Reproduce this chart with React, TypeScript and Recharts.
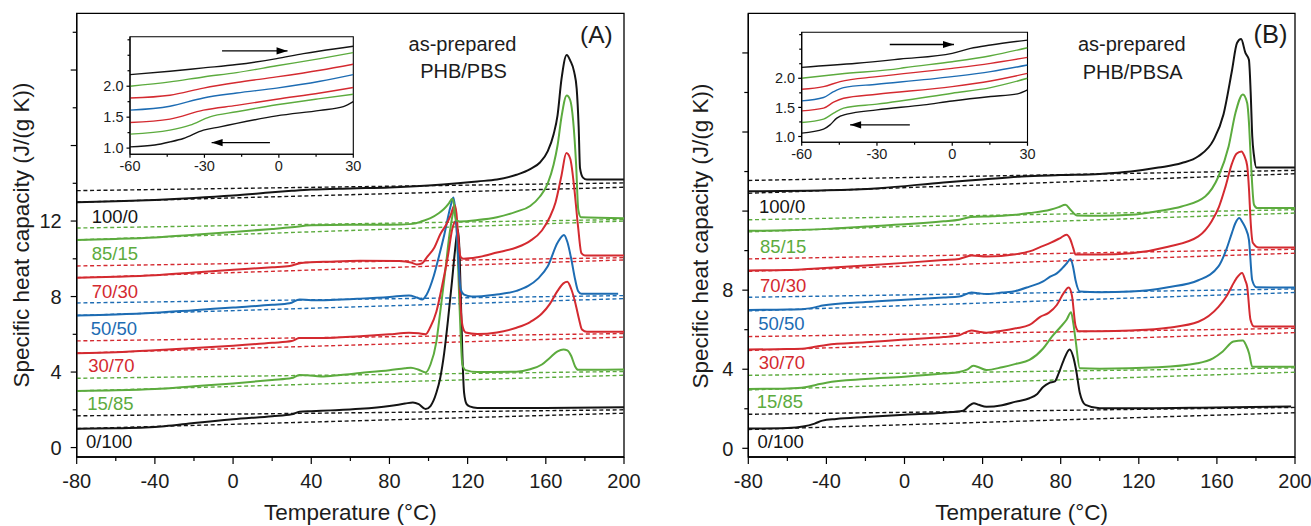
import React from 'react';
import { LineChart, Line, XAxis, YAxis, ReferenceArea, ReferenceLine, ReferenceDot } from 'recharts';

const FONT = "'Liberation Sans', Arial, Helvetica, sans-serif";
const INK = '#1c1c1c';
const BLACK = '#141414';
const GREEN = '#5cab3e';
const RED = '#d42a30';
const BLUE = '#1d6cb3';

const samples = ['0/100', '15/85', '30/70', '50/50', '70/30', '85/15', '100/0'];
const sampleColors = [BLACK, GREEN, RED, BLUE, RED, GREEN, BLACK];

const xTicks = [-80, -60, -40, -20, 0, 20, 40, 60, 80, 100, 120, 140, 160, 180, 200];
const xLabels = [-80, -40, 0, 40, 80, 120, 160, 200];
const yTicksA = [0, 2, 4, 6, 8, 10, 12, 14, 16, 18, 20, 22];
const yTicksB = [0, 2, 4, 6, 8, 10, 12, 14, 16, 18, 20];
const yMajor = [0, 4, 8, 12, 16, 20];
const yLabelsA = [0, 4, 8, 12];
const yLabelsB = [0, 4, 8];
const insetXTicks = [-60, -45, -30, -15, 0, 15, 30];
const insetXLabels = [-60, -30, 0, 30];
const insetYTicks = [1.0, 1.25, 1.5, 1.75, 2.0, 2.25, 2.5, 2.75];
const insetYLabels = [1.0, 1.5, 2.0];

// (A) PHB/PBS, as-prepared, [T °C, cp J/(g K)], curves shifted by 2 each
const a0_100 = [[-80, 1.0], [-60, 1.02], [-45, 1.06], [-35, 1.13], [-20, 1.3], [0, 1.5], [20, 1.66], [30, 1.76], [34, 1.9], [40, 1.93], [50, 1.97], [65, 2.05], [80, 2.2], [88, 2.33], [92, 2.39], [95, 2.3], [98.5, 2.04], [101, 2.2], [104, 2.9], [106, 3.7], [108, 5.0], [110, 6.8], [112, 8.8], [113.5, 10.4], [115, 11.55], [115.8, 10.5], [116.5, 8.0], [117.3, 5.0], [118.2, 2.9], [119.5, 2.3], [121, 2.18], [125, 2.1], [160, 2.1], [200, 2.13]];
const a15_85 = [[-80, 3.0], [-60, 3.03], [-40, 3.1], [-20, 3.25], [0, 3.4], [20, 3.58], [30, 3.68], [34, 3.85], [38, 3.83], [45, 3.77], [55, 3.85], [65, 3.95], [80, 4.1], [88, 4.2], [91, 4.23], [95, 4.12], [98.5, 3.98], [101, 4.4], [104, 5.6], [106, 7.2], [108.5, 9.3], [111, 11.5], [113.5, 12.65], [114.5, 11.5], [115.6, 8.2], [116.5, 5.8], [117.3, 4.4], [119, 4.1], [125, 4.0], [145, 4.02], [152, 4.15], [158, 4.4], [162, 4.75], [166, 5.1], [169, 5.2], [171, 5.15], [173, 4.85], [175, 4.3], [176.5, 4.12], [200, 4.13]];
const a30_70 = [[-80, 5.0], [-60, 5.05], [-40, 5.15], [-20, 5.27], [0, 5.4], [20, 5.55], [30, 5.64], [34, 5.8], [45, 5.8], [65, 5.9], [80, 6.0], [90, 6.08], [95, 6.05], [98.5, 6.0], [101, 6.4], [104, 7.2], [107, 8.6], [110, 10.2], [112.2, 11.6], [114, 12.0], [115, 11.0], [116.4, 7.5], [117.5, 6.4], [119, 6.1], [125, 6.02], [135, 6.1], [145, 6.35], [152, 6.65], [158, 7.1], [162, 7.6], [166, 8.3], [169, 8.7], [171, 8.78], [173, 8.4], [175, 7.7], [177, 6.8], [178.5, 6.25], [181, 6.13], [200, 6.13]];
const a50_50 = [[-80, 7.0], [-60, 7.05], [-40, 7.14], [-20, 7.28], [0, 7.42], [20, 7.56], [29, 7.64], [34, 7.85], [40, 7.8], [50, 7.82], [65, 7.89], [80, 7.98], [90, 8.06], [94, 7.95], [96.7, 7.85], [99, 8.1], [102.7, 9.1], [105.5, 10.2], [108, 11.25], [111.3, 12.8], [112.7, 13.25], [114, 12.2], [114.7, 10.9], [116.4, 8.4], [118.2, 8.1], [122, 8.0], [134, 8.1], [145, 8.3], [151, 8.56], [156, 8.95], [161, 9.6], [166, 10.85], [169.3, 11.26], [171, 10.9], [173, 10.0], [175, 8.9], [176.5, 8.3], [178.2, 8.15], [197, 8.15]];
const a70_30 = [[-80, 9.0], [-60, 9.05], [-40, 9.13], [-20, 9.28], [0, 9.42], [20, 9.55], [29, 9.62], [35, 9.78], [50, 9.85], [65, 9.89], [85, 9.88], [91, 9.8], [94, 9.7], [96.5, 9.75], [99.3, 10.1], [103, 10.6], [106, 11.3], [109, 11.8], [111.3, 12.3], [113.3, 12.85], [114.3, 12.4], [115.3, 11.0], [116.4, 10.1], [118, 10.0], [125, 10.08], [135, 10.33], [145, 10.6], [152, 10.95], [158, 11.5], [162, 12.2], [165, 13.0], [168, 14.4], [170.5, 15.6], [172.5, 15.3], [174.5, 13.8], [176.5, 11.7], [178.2, 10.3], [180, 10.18], [200, 10.18]];
const a85_15 = [[-80, 11.0], [-60, 11.05], [-40, 11.13], [-20, 11.28], [0, 11.42], [20, 11.58], [30, 11.67], [40, 11.78], [60, 11.8], [80, 11.8], [92, 11.85], [97, 12.0], [101, 12.15], [105, 12.4], [108, 12.65], [110.5, 12.95], [112.1, 13.18], [113, 12.9], [113.9, 12.05], [116, 11.98], [125, 12.05], [135, 12.2], [145, 12.5], [152, 12.8], [157, 13.3], [161, 14.0], [164, 15.0], [166, 16.0], [168, 17.5], [170.7, 18.65], [172.5, 18.4], [174, 17.3], [175.5, 15.0], [176.6, 12.6], [178, 12.2], [200, 12.15]];
const a100_0 = [[-80, 13.0], [-60, 13.05], [-40, 13.12], [-20, 13.22], [0, 13.35], [20, 13.52], [30, 13.6], [40, 13.67], [60, 13.73], [80, 13.78], [100, 13.88], [115, 14.0], [125, 14.1], [135, 14.2], [145, 14.45], [152, 14.75], [157, 15.1], [161, 15.7], [164, 16.6], [166, 17.6], [168, 19.5], [170.7, 20.8], [172.5, 20.5], [174.5, 19.9], [175.8, 19.0], [176.8, 17.0], [177.5, 14.8], [179, 14.3], [181, 14.2], [200, 14.2]];

// dashed baselines of (A): value at -80 and at 200 °C
const aHiStart = [1.68, 3.67, 5.65, 7.66, 9.62, 11.63, 13.61];
const aHiEnd = [2.0, 4.03, 6.04, 8.05, 10.06, 12.08, 14.02];
const aLoStart = [1.0, 3.0, 5.0, 7.0, 9.0, 11.0, 13.0];
const aLoEnd = [1.82, 3.83, 5.85, 7.89, 9.94, 12.0, 13.79];

// (B) PHB/PBSA, as-prepared
const b0_100 = [[-80, 1.0], [-60, 1.03], [-52, 1.1], [-46, 1.25], [-42, 1.4], [-35, 1.48], [-20, 1.58], [0, 1.7], [20, 1.8], [30, 1.9], [33, 2.15], [35.5, 2.28], [38, 2.2], [42, 2.1], [50, 2.18], [57, 2.36], [64, 2.53], [68, 2.75], [71, 3.1], [74, 3.3], [77, 3.38], [79, 3.8], [81.5, 4.45], [84.6, 5.0], [86.5, 4.6], [88, 3.9], [89.8, 2.8], [92.7, 2.2], [100, 2.03], [120, 2.03], [160, 2.07], [198, 2.11]];
const b15_85 = [[-80, 3.0], [-60, 3.03], [-51, 3.09], [-45, 3.22], [-40, 3.32], [-20, 3.5], [0, 3.62], [20, 3.78], [28, 3.86], [32, 3.98], [35.3, 4.17], [38, 4.1], [42, 3.96], [50, 4.1], [57, 4.27], [64, 4.47], [71, 5.05], [75.5, 5.65], [80, 6.15], [83, 6.5], [85.3, 6.88], [86.5, 6.3], [87.6, 5.5], [89.8, 4.05], [100, 4.03], [130, 4.1], [150, 4.3], [158, 4.55], [163, 4.9], [168.5, 5.4], [173.3, 5.45], [175, 5.2], [176.5, 4.8], [178.1, 4.13], [200, 4.13]];
const b30_70 = [[-80, 5.0], [-60, 5.02], [-51, 5.05], [-45, 5.15], [-40, 5.23], [-20, 5.36], [0, 5.5], [20, 5.63], [28, 5.72], [34.4, 5.96], [38, 5.9], [42, 5.85], [50, 5.95], [57, 6.07], [64, 6.24], [69.5, 6.65], [73.8, 6.85], [78, 7.25], [81.5, 7.85], [84.1, 8.13], [85.8, 7.7], [87.6, 6.2], [89.3, 5.92], [100, 5.92], [116, 5.96], [135, 6.1], [150.5, 6.4], [160.8, 7.15], [165, 7.7], [167.7, 8.2], [170, 8.6], [172.9, 8.87], [174.5, 8.5], [175.5, 8.18], [177.2, 6.5], [179, 6.16], [200, 6.16]];
const b50_50 = [[-80, 7.0], [-60, 7.02], [-51, 7.05], [-45, 7.15], [-42, 7.22], [-20, 7.4], [0, 7.52], [20, 7.63], [28, 7.68], [34.4, 7.88], [38, 7.84], [42, 7.8], [50, 7.88], [57, 7.96], [64, 8.18], [71, 8.44], [74.6, 8.68], [78, 8.85], [80.7, 9.1], [83, 9.35], [85, 9.57], [86.3, 9.2], [87.6, 8.5], [89.8, 7.93], [100, 7.9], [116, 7.93], [135, 8.15], [150.5, 8.5], [160.8, 9.2], [165, 10.1], [167.7, 10.9], [169.5, 11.4], [171.5, 11.65], [173, 11.45], [174.6, 11.15], [176.4, 10.55], [178.1, 8.5], [180.2, 8.15], [200, 8.13]];
const b70_30 = [[-80, 9.0], [-60, 9.02], [-45, 9.1], [-20, 9.25], [0, 9.38], [20, 9.52], [28, 9.58], [34.4, 9.75], [42, 9.7], [57, 9.82], [64, 9.96], [70, 10.2], [75, 10.4], [80, 10.65], [82.9, 10.8], [85, 10.55], [86.5, 10.1], [87.6, 9.8], [100, 9.8], [116, 9.87], [135, 10.2], [150.5, 10.72], [157.4, 11.5], [161, 12.2], [164.3, 13.2], [167.7, 14.4], [170, 14.9], [172.6, 15.02], [174, 14.8], [175.5, 14.3], [176.5, 13.0], [177.2, 11.6], [178.4, 10.4], [181.5, 10.16], [200, 10.16]];
const b85_15 = [[-80, 11.0], [-60, 11.03], [-40, 11.1], [-20, 11.22], [0, 11.33], [20, 11.48], [28, 11.56], [34, 11.7], [45, 11.74], [57, 11.81], [64, 11.9], [74.6, 12.07], [79, 12.2], [82.4, 12.32], [85, 12.07], [88.4, 11.78], [100, 11.76], [116, 11.81], [130, 12.0], [141.9, 12.23], [154, 12.74], [160.8, 13.75], [166, 15.27], [169.5, 16.96], [173.3, 17.9], [175.5, 17.47], [176.4, 16.5], [177.2, 14.94], [179, 12.32], [180.7, 12.15], [200, 12.15]];
const b100_0 = [[-80, 13.0], [-40, 13.05], [-13, 13.16], [20, 13.45], [40, 13.6], [60, 13.75], [80, 13.82], [100, 13.88], [116, 14.0], [130, 14.2], [142, 14.43], [150.5, 14.77], [158.3, 15.6], [163.4, 16.9], [167.7, 19.1], [170.3, 20.5], [172.4, 20.7], [174.6, 20.0], [176.4, 19.65], [177.3, 18.0], [178.1, 15.8], [179, 14.8], [180.2, 14.2], [200, 14.2]];

const bHiStart = [1.72, 3.69, 5.65, 7.64, 9.58, 11.56, 13.55];
const bHiEnd = [2.07, 4.07, 6.07, 8.06, 10.07, 12.07, 14.06];
const bLoStart = [0.95, 2.95, 4.95, 6.95, 8.95, 10.95, 12.9];
const bLoEnd = [1.8, 3.85, 5.85, 7.88, 9.87, 11.9, 13.89];

// insets: glass transition region, -60..30 °C
const iA0_100 = [[-60, 1.02], [-50, 1.05], [-43.9, 1.1], [-38.5, 1.155], [-30.4, 1.29], [-23.7, 1.344], [-17, 1.4], [-0.9, 1.52], [16.6, 1.61], [26, 1.67], [30, 1.75]];
const iA15_85 = [[-60, 1.226], [-43.9, 1.29], [-35.8, 1.37], [-27.8, 1.505], [-17, 1.587], [-0.9, 1.7], [16.6, 1.8], [30, 1.87]];
const iA30_70 = [[-60, 1.414], [-43.9, 1.468], [-30.4, 1.613], [-17, 1.69], [-0.9, 1.79], [16.6, 1.89], [30, 1.98]];
const iA50_50 = [[-60, 1.613], [-43.9, 1.677], [-30.4, 1.81], [-17, 1.89], [-0.9, 1.97], [16.6, 2.08], [30, 2.188]];
const iA70_30 = [[-60, 1.81], [-43.9, 1.855], [-30.4, 1.97], [-17, 2.06], [-0.9, 2.15], [16.6, 2.258], [30, 2.355]];
const iA85_15 = [[-60, 2.0], [-43.9, 2.07], [-30.4, 2.15], [-17, 2.22], [-0.9, 2.33], [16.6, 2.446], [30, 2.543]];
const iA100_0 = [[-60, 2.188], [-43.9, 2.242], [-30.4, 2.296], [-17, 2.35], [-0.9, 2.446], [9.9, 2.527], [16.6, 2.57], [30, 2.645]];

const iB0_100 = [[-60, 1.058], [-51.3, 1.126], [-48.7, 1.2], [-46, 1.315], [-42, 1.383], [-30, 1.457], [-11.3, 1.543], [0, 1.61], [15.3, 1.686], [26, 1.732], [30, 1.8]];
const iB15_85 = [[-60, 1.24], [-51.3, 1.298], [-47.3, 1.4], [-43.3, 1.486], [-30, 1.555], [0, 1.743], [15.3, 1.84], [30, 2.0]];
const iB30_70 = [[-60, 1.44], [-51.3, 1.486], [-47.3, 1.589], [-43.3, 1.657], [-30, 1.726], [0, 1.857], [15.3, 1.954], [30, 2.085]];
const iB50_50 = [[-60, 1.612], [-51.3, 1.669], [-47.3, 1.77], [-43.3, 1.84], [-30, 1.897], [0, 2.028], [15.3, 2.114], [30, 2.228]];
const iB70_30 = [[-60, 1.811], [-51.3, 1.857], [-44.7, 1.943], [-30, 2.028], [0, 2.171], [15.3, 2.257], [30, 2.36]];
const iB85_15 = [[-60, 2.0], [-44.7, 2.074], [-20.7, 2.171], [-19.3, 2.18], [0, 2.285], [15.3, 2.388], [30, 2.525]];
const iB100_0 = [[-60, 2.188], [-38, 2.257], [-20.7, 2.331], [0, 2.428], [7.3, 2.513], [15.3, 2.571], [30, 2.656]];

// heating / cooling arrows in the insets: [T from, T to, cp]
const arrowsA = [[-22.9, 3.5, 2.57], [-3.6, -27.1, 1.09]];
const arrowsB = [[-24.9, 0.7, 2.58], [-16.9, -40.7, 1.2]];

const toPts = (rows: number[][]) => rows.map(([t, cp]) => ({ t, cp }));

const curvesA = [a0_100, a15_85, a30_70, a50_50, a70_30, a85_15, a100_0];
const curvesB = [b0_100, b15_85, b30_70, b50_50, b70_30, b85_15, b100_0];
const insetA = [iA0_100, iA15_85, iA30_70, iA50_50, iA70_30, iA85_15, iA100_0];
const insetB = [iB0_100, iB15_85, iB30_70, iB50_50, iB70_30, iB85_15, iB100_0];

const makeXTick = (labels: number[], size: number, major: number, minor: number, dy: number, fmt: (v: number) => string) =>
  (p: any) => {
    const v = p.payload.value;
    const big = labels.includes(v);
    return (
      <g>
        <line x1={p.x} x2={p.x} y1={p.y} y2={p.y + (big ? major : minor)} stroke="#000" strokeWidth={1.2} />
        {big ? (
          <text x={p.x} y={p.y + dy} textAnchor="middle" fontSize={size} fontFamily={FONT} fill={INK}>{fmt(v)}</text>
        ) : null}
      </g>
    );
  };

const makeYTick = (labels: number[], majors: number[], size: number, major: number, minor: number, gap: number, fmt: (v: number) => string) =>
  (p: any) => {
    const v = p.payload.value;
    const len = majors.includes(v) ? major : minor;
    return (
      <g>
        <line x1={p.x - len} x2={p.x} y1={p.y} y2={p.y} stroke="#000" strokeWidth={1.2} />
        {labels.includes(v) ? (
          <text x={p.x - gap} y={p.y} dy="0.36em" textAnchor="end" fontSize={size} fontFamily={FONT} fill={INK}>{fmt(v)}</text>
        ) : null}
      </g>
    );
  };

const intFmt = (v: number) => String(v);
const decFmt = (v: number) => v.toFixed(1);

type PanelProps = {
  curves: number[][][];
  hiStart: number[];
  hiEnd: number[];
  loStart: number[];
  loEnd: number[];
  yDomain: [number, number];
  yTicks: number[];
  yLabels: number[];
  width: number;
  margin: { top: number; right: number; bottom: number; left: number };
};

const Panel = ({ curves, hiStart, hiEnd, loStart, loEnd, yDomain, yTicks, yLabels, width, margin }: PanelProps) => (
  <LineChart width={width} height={526} margin={margin}>
    <XAxis
      dataKey="t"
      type="number"
      domain={[-80, 200]}
      ticks={xTicks}
      interval={0}
      allowDataOverflow
      height={30}
      tickSize={0}
      tickMargin={0}
      tickLine={false}
      axisLine={{ stroke: '#000', strokeWidth: 1.3 }}
      tick={makeXTick(xLabels, 20, 7, 4, 31, intFmt)}
    />
    <YAxis
      dataKey="cp"
      type="number"
      domain={yDomain}
      ticks={yTicks}
      interval={0}
      allowDataOverflow
      width={60}
      tickSize={0}
      tickMargin={0}
      tickLine={false}
      axisLine={{ stroke: '#000', strokeWidth: 1.3 }}
      tick={makeYTick(yLabels, yMajor, 20, 6, 4, 15, intFmt)}
    />
    <ReferenceArea x1={-80} x2={200} y1={yDomain[0]} y2={yDomain[1]} fill="none" stroke="#000" strokeWidth={1.3} />
    {samples.map((s, i) => (
      <Line
        key={`hi-${s}`}
        data={[{ t: -80, cp: hiStart[i] }, { t: 200, cp: hiEnd[i] }]}
        dataKey="cp"
        type="linear"
        stroke={sampleColors[i]}
        strokeWidth={1.4}
        strokeDasharray="4 2.7"
        dot={false}
        isAnimationActive={false}
      />
    ))}
    {samples.map((s, i) => (
      <Line
        key={`lo-${s}`}
        data={[{ t: -80, cp: loStart[i] }, { t: 200, cp: loEnd[i] }]}
        dataKey="cp"
        type="linear"
        stroke={sampleColors[i]}
        strokeWidth={1.4}
        strokeDasharray="4 2.7"
        dot={false}
        isAnimationActive={false}
      />
    ))}
    {samples.map((s, i) => (
      <Line
        key={`cp-${s}`}
        data={toPts(curves[i])}
        dataKey="cp"
        type="monotone"
        stroke={sampleColors[i]}
        strokeWidth={2}
        dot={false}
        isAnimationActive={false}
      />
    ))}
  </LineChart>
);

const arrowHead = (dir: number) => (p: any) => (
  <path d={`M${p.cx},${p.cy} l${-dir * 11},-3.6 l0,7.2 z`} fill="#000" />
);

type InsetProps = {
  curves: number[][][];
  arrows: number[][];
  yDomain: [number, number];
  width: number;
  height: number;
  margin: { top: number; right: number; bottom: number; left: number };
};

const Inset = ({ curves, arrows, yDomain, width, height, margin }: InsetProps) => (
  <LineChart width={width} height={height} margin={margin}>
    <XAxis
      dataKey="t"
      type="number"
      domain={[-60, 30]}
      ticks={insetXTicks}
      interval={0}
      allowDataOverflow
      height={20}
      tickSize={0}
      tickMargin={0}
      tickLine={false}
      axisLine={{ stroke: '#000', strokeWidth: 1.1 }}
      tick={makeXTick(insetXLabels, 14.5, 3.5, 2.5, 17, intFmt)}
    />
    <YAxis
      dataKey="cp"
      type="number"
      domain={yDomain}
      ticks={insetYTicks}
      interval={0}
      allowDataOverflow
      width={30}
      tickSize={0}
      tickMargin={0}
      tickLine={false}
      axisLine={{ stroke: '#000', strokeWidth: 1.1 }}
      tick={makeYTick(insetYLabels, insetYLabels, 14.5, 3.5, 2.5, 6.5, decFmt)}
    />
    <ReferenceArea x1={-60} x2={30} y1={yDomain[0]} y2={yDomain[1]} fill="#fff" fillOpacity={0} stroke="#000" strokeWidth={1.1} />
    {samples.map((s, i) => (
      <Line
        key={`in-${s}`}
        data={toPts(curves[i])}
        dataKey="cp"
        type="monotone"
        stroke={sampleColors[i]}
        strokeWidth={1.4}
        dot={false}
        isAnimationActive={false}
      />
    ))}
    {arrows.map(([from, to, cp], i) => (
      <ReferenceLine key={`al-${i}`} segment={[{ x: from, y: cp }, { x: to, y: cp }]} stroke="#000" strokeWidth={1.3} />
    ))}
    {arrows.map(([from, to, cp], i) => (
      <ReferenceDot key={`ah-${i}`} x={to} y={cp} r={0} shape={arrowHead(to > from ? 1 : -1)} />
    ))}
  </LineChart>
);

const tagPosA = [[86, 448.3], [87.3, 410], [88.3, 372.3], [90.7, 335], [91.7, 297.7], [91.7, 260], [91.7, 222.7]];
const tagPosB = [[757.5, 448.3], [756.7, 408.3], [758.8, 369.3], [758.3, 330], [760, 291.7], [760, 252.7], [759, 212.7]];

const abs = (left: number, top: number): React.CSSProperties => ({ position: 'absolute', left, top });

export default function App() {
  return (
    <div style={{ position: 'absolute', left: 0, top: 0, width: 1311, height: 526, background: '#fff', fontFamily: FONT }}>
      <div style={abs(0, 0)}>
        <Panel
          curves={curvesA}
          hiStart={aHiStart}
          hiEnd={aHiEnd}
          loStart={aLoStart}
          loEnd={aLoEnd}
          yDomain={[-0.5, 23]}
          yTicks={yTicksA}
          yLabels={yLabelsA}
          width={650}
          margin={{ top: 13.4, right: 26, bottom: 39, left: 16.7 }}
        />
      </div>
      <div style={abs(660, 0)}>
        <Panel
          curves={curvesB}
          hiStart={bHiStart}
          hiEnd={bHiEnd}
          loStart={bLoStart}
          loEnd={bLoEnd}
          yDomain={[-0.44, 22]}
          yTicks={yTicksB}
          yLabels={yLabelsB}
          width={651}
          margin={{ top: 13.4, right: 16, bottom: 39, left: 28.3 }}
        />
      </div>
      <div style={abs(90, 30)}>
        <Inset
          curves={insetA}
          arrows={arrowsA}
          yDomain={[0.9, 2.8]}
          width={280}
          height={150}
          margin={{ top: 6.7, right: 16.7, bottom: 5.7, left: 10 }}
        />
      </div>
      <div style={abs(760, 20)}>
        <Inset
          curves={insetB}
          arrows={arrowsB}
          yDomain={[0.9, 2.79]}
          width={280}
          height={150}
          margin={{ top: 12.3, right: 12.5, bottom: 7.7, left: 11.7 }}
        />
      </div>
      <svg width={1311} height={526} style={{ position: 'absolute', left: 0, top: 0, pointerEvents: 'none' }}>
        <g fontFamily={FONT} fill={INK}>
          {samples.map((s, i) => (
            <text key={`ta-${s}`} x={tagPosA[i][0]} y={tagPosA[i][1]} fontSize={18.5} fill={sampleColors[i]}>{s}</text>
          ))}
          {samples.map((s, i) => (
            <text key={`tb-${s}`} x={tagPosB[i][0]} y={tagPosB[i][1]} fontSize={18.5} fill={sampleColors[i]}>{s}</text>
          ))}
          <text x={462.5} y={51} fontSize={20} textAnchor="middle">as-prepared</text>
          <text x={463.5} y={78} fontSize={20} textAnchor="middle">PHB/PBS</text>
          <text x={580} y={43.3} fontSize={24.5}>(A)</text>
          <text x={1131.8} y={51} fontSize={20} textAnchor="middle">as-prepared</text>
          <text x={1132.7} y={79} fontSize={20} textAnchor="middle">PHB/PBSA</text>
          <text x={1253.5} y={43.3} fontSize={25.5}>(B)</text>
          <text x={350.4} y={519.5} fontSize={22.5} textAnchor="middle">Temperature (°C)</text>
          <text x={1021.7} y={519.5} fontSize={22.5} textAnchor="middle">Temperature (°C)</text>
          <text transform="translate(28.5,235) rotate(-90)" fontSize={22.5} textAnchor="middle">Specific heat capacity (J/(g K))</text>
          <text transform="translate(707.5,236) rotate(-90)" fontSize={22.5} textAnchor="middle">Specific heat capacity (J/(g K))</text>
        </g>
      </svg>
    </div>
  );
}
